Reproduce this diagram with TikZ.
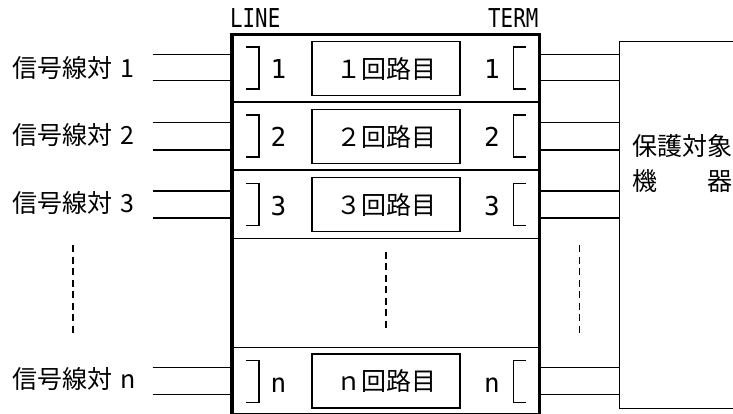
\documentclass[tikz,border=0pt]{standalone}
\usepackage{fontspec}
\newfontfamily\jp{Noto Sans CJK JP}
\newfontfamily\mono{DejaVu Sans Mono}
\begin{document}
\begin{tikzpicture}[x=1pt,y=-1pt,
  wire/.style={line width=1.5pt},
  divline/.style={line width=1.1pt},
  brk/.style={line width=1.6pt},
  dashln/.style={line width=1.6pt, dash pattern=on 7pt off 4.5pt},
  framebox/.style={draw, line width=3.3pt, inner sep=0pt, outer sep=0pt, anchor=north west},
  eqbox/.style={draw, line width=1.5pt, inner sep=0pt, outer sep=0pt, anchor=north west},
  circbox/.style={draw, line width=1.5pt, inner sep=0pt, outer sep=0pt,
    minimum width=148pt, minimum height=54pt, font=\jp\fontsize{25}{25}\selectfont},
  jplbl/.style={inner sep=0pt, anchor=west, font=\jp\fontsize{25}{25}\selectfont},
  numlbl/.style={inner sep=0pt, anchor=base, font=\mono\fontsize{26}{26}\selectfont},
  toplbl/.style={inner sep=0pt, font=\mono\fontsize{26}{26}\selectfont}
]
\useasboundingbox (0,0) rectangle (733,414);
\clip (0,0) rectangle (733,414);

% frames
\node[framebox, minimum width=307.5pt, minimum height=380pt] (main) at (232,34.5) {};
\node[eqbox, minimum width=150pt, minimum height=367pt] (eq) at (619.5,41.3) {};

% top labels
\node[toplbl, anchor=base west] (line) at (230,27.5) {\scalebox{0.8}[1]{LINE}};
\node[toplbl, anchor=base east] (term) at (538.5,27.5) {\scalebox{0.8}[1]{TERM}};

% row dividers
\foreach \yy/\nm in {102/d1,170/d2,238.3/d3,347.7/d4}{
  \coordinate (\nm) at (386,\yy);
  \draw[divline] (main.west |- \nm) -- (main.east |- \nm);
}

% inner circuit boxes
\node[circbox] (c1) at (386,68.7) {１回路目};
\node[circbox] (c2) at (386,136.7) {２回路目};
\node[circbox] (c3) at (386,204.7) {３回路目};
\node[circbox] (cn) at (386,381.2) {ｎ回路目};

% wires
\foreach \ya/\yb/\nm in {54.3/80.7/1,122.7/150/2,191/218/3,367.7/394.3/n}{
  \coordinate (la\nm) at (152.7,\ya);
  \coordinate (lb\nm) at (152.7,\yb);
  \draw[wire] (la\nm) -- (la\nm -| main.west);
  \draw[wire] (lb\nm) -- (lb\nm -| main.west);
  \draw[wire] (main.east |- la\nm) -- (eq.west |- la\nm);
  \draw[wire] (main.east |- lb\nm) -- (eq.west |- lb\nm);
}

% brackets and numbers
\foreach \c/\t in {68.3/1,136.3/2,204.4/3,381.3/n}{
  \draw[brk] (246,\c-21) -- (259,\c-21) -- (259,\c+21) -- (246,\c+21);
  \draw[brk] (525.7,\c-21) -- (513.3,\c-21) -- (513.3,\c+21) -- (525.7,\c+21);
  \node[numlbl] (nl\t) at (278.5,\c+10.7) {\t};
  \node[numlbl] (nr\t) at (492,\c+10.7) {\t};
}

% left labels
\node[jplbl] (s1) at (12,68) {信号線対\hspace{8pt}1};
\node[jplbl] (s2) at (12,135.5) {信号線対\hspace{8pt}2};
\node[jplbl] (s3) at (12,203) {信号線対\hspace{8pt}3};
\node[jplbl] (sn) at (12,379) {信号線対\hspace{8pt}n};

% equipment text
\node[jplbl] (eqa) at (632,146) {保護対象};
\node[jplbl] (eqb) at (632,181) {機　　器};

% dashed continuation lines
\coordinate (dl1) at (72.7,245);   \coordinate (dl2) at (72.7,336.7);
\coordinate (dm1) at (386,251.7);  \coordinate (dm2) at (386,330);
\coordinate (dr1) at (579.3,245);  \coordinate (dr2) at (579.3,336.7);
\draw[dashln] (dl1) -- (dl2);
\draw[dashln] (dm1) -- (dm2);
\draw[dashln] (dr1) -- (dr2);
\end{tikzpicture}
\end{document}
